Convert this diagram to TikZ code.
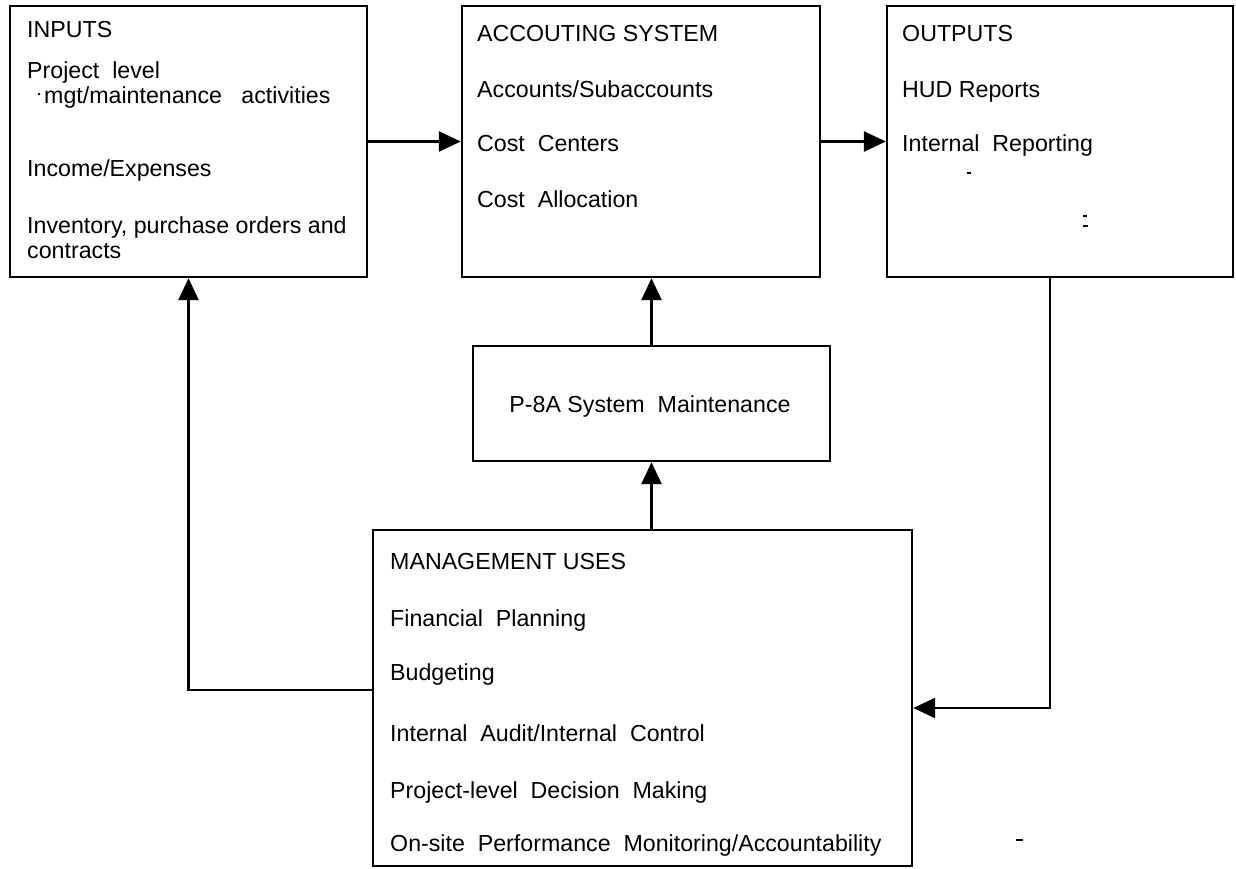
\documentclass[tikz,border=0pt]{standalone}
\usepackage{fontspec}
\setmainfont{Liberation Sans}
\usetikzlibrary{arrows.meta}
\begin{document}
\begin{tikzpicture}[x=1pt,y=-1pt,
  box/.style={draw,line width=2.4pt,inner sep=0pt,minimum width=#1},
  txt/.style={anchor=base west,inner sep=0pt,font=\fontsize{23.2}{27}\selectfont},
  conn/.style={line width=2.6pt,-{Triangle[length=22pt,width=20pt]}},
  speck/.style={line width=1.2pt}]
\useasboundingbox (0,0) rectangle (1236,868);
% boxes
\node[box=357pt,minimum height=271pt] (in)   at (188.5,141.5) {};
\node[box=358pt,minimum height=271pt] (acc)  at (641,141.5) {};
\node[box=346pt,minimum height=271pt] (out)  at (1060,141.5) {};
\node[box=357pt,minimum height=115pt] (p8a)  at (651.5,403.5) {};
\node[box=539pt,minimum height=336pt] (mgmt) at (642.5,698) {};
% INPUTS texts
\node[txt] (t1) at (27,37) {INPUTS};
\node[txt] (t2) at (27,78) {Project\ \ level};
\node[txt] (t3) at (44,103) {mgt/maintenance\ \ \ activities};
\node[txt] (t4) at (27,176) {Income/Expenses};
\node[txt] (t5) at (27,233) {Inventory,\ purchase\ orders\ and};
\node[txt] (t6) at (27,258) {contracts};
\fill (39,94) circle (1.3pt);
% ACCOUNTING texts
\node[txt] (a1) at (477,41) {ACCOUTING SYSTEM};
\node[txt] (a2) at (477,97) {Accounts/Subaccounts};
\node[txt] (a3) at (477,151) {Cost\ \ Centers};
\node[txt] (a4) at (477,207) {Cost\ \ Allocation};
% OUTPUTS texts
\node[txt] (o1) at (902,41) {OUTPUTS};
\node[txt] (o2) at (902,97) {HUD Reports};
\node[txt] (o3) at (902,151) {Internal\ \ Reporting};
\draw[speck] (967,173) -- (971,173);
\draw[speck] (1083,216) -- (1087,216) (1083,226) -- (1088,226);
% P-8A text
\node[font=\fontsize{23.2}{27}\selectfont,inner sep=0pt] (p1) at (650,406) {P-8A\ System\ \ Maintenance};
% MANAGEMENT texts
\node[txt] (m1) at (390,569) {MANAGEMENT USES};
\node[txt] (m2) at (390,626) {Financial\ \ Planning};
\node[txt] (m3) at (390,680) {Budgeting};
\node[txt] (m4) at (390,741) {Internal\ \ Audit/Internal\ \ Control};
\node[txt] (m5) at (390,798) {Project-level\ \ Decision\ \ Making};
\node[txt] (m6) at (390,851) {On-site\ \ Performance\ \ Monitoring/Accountability};
\draw[speck] (1016,840) -- (1023,840);
% connectors
\draw[conn] (in.east) -- (acc.west);
\draw[conn] (acc.east) -- (out.west);
\draw[conn] (p8a.north) -- (p8a.north |- acc.south);
\draw[conn] (mgmt.north -| p8a.south) -- (p8a.south);
\draw[conn] ([yshift=8pt]mgmt.west) -| (in.south);
\draw[conn] ([xshift=-10pt]out.south) |- ([yshift=-10pt]mgmt.east);
\end{tikzpicture}
\end{document}
